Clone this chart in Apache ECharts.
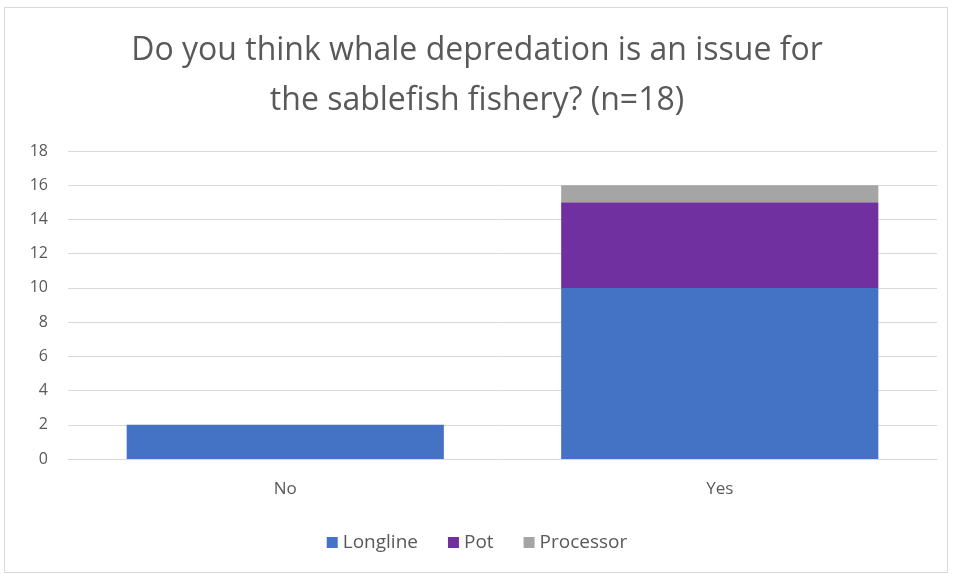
<!DOCTYPE html>
<html>
<head>
<meta charset="utf-8">
<script src="https://cdn.jsdelivr.net/npm/echarts@6/dist/echarts.min.js"></script>
<style>
  html, body { margin: 0; padding: 0; background: #fff; }
  #frame { position: absolute; left: 4px; top: 7px; width: 944px; height: 566px;
           border: 1px solid #d9d9d9; box-sizing: border-box; }
  #chart { position: absolute; left: 0; top: 0; width: 954px; height: 579px; }
</style>
</head>
<body>
<div id="frame"></div>
<div id="chart"></div>
<script>
// Survey answers by fishery sector
const categories = ['No', 'Yes'];
const longline = [2, 10];
const pot = [0, 5];
const processor = [0, 1];
const yTicks = { min: 0, max: 18, interval: 2 };

const FONT = '"Open Sans", Lato, sans-serif';
const chart = echarts.init(document.getElementById('chart'));

chart.setOption({
  animation: false,
  title: {
    text: 'Do you think whale depredation is an issue for\nthe sablefish fishery? (n=18)',
    left: 'center',
    top: 21,
    textStyle: { fontFamily: FONT, fontSize: 32, fontWeight: 'normal', color: '#595959', lineHeight: 50 }
  },
  legend: {
    bottom: 22,
    left: 'center',
    itemWidth: 11,
    itemHeight: 11,
    itemGap: 30,
    icon: 'rect',
    textStyle: { fontFamily: FONT, fontSize: 19, color: '#595959' },
    data: ['Longline', 'Pot', 'Processor']
  },
  grid: { left: 68, right: 17, top: 151, bottom: 120, containLabel: false },
  xAxis: {
    type: 'category',
    data: categories,
    axisLine: { lineStyle: { color: '#d9d9d9' } },
    axisTick: { show: false },
    axisLabel: { fontFamily: FONT, fontSize: 17, color: '#595959', margin: 22 }
  },
  yAxis: {
    type: 'value',
    min: yTicks.min,
    max: yTicks.max,
    interval: yTicks.interval,
    axisLine: { show: false },
    axisTick: { show: false },
    splitLine: { lineStyle: { color: '#d9d9d9' } },
    axisLabel: { fontFamily: FONT, fontSize: 16, color: '#595959', margin: 20 }
  },
  series: [
    { name: 'Longline', type: 'bar', stack: 'total', data: longline, barWidth: '73%',
      itemStyle: { color: '#4472C4' } },
    { name: 'Pot', type: 'bar', stack: 'total', data: pot,
      itemStyle: { color: '#7030A0' } },
    { name: 'Processor', type: 'bar', stack: 'total', data: processor,
      itemStyle: { color: '#A5A5A5' } }
  ]
});
</script>
</body>
</html>
